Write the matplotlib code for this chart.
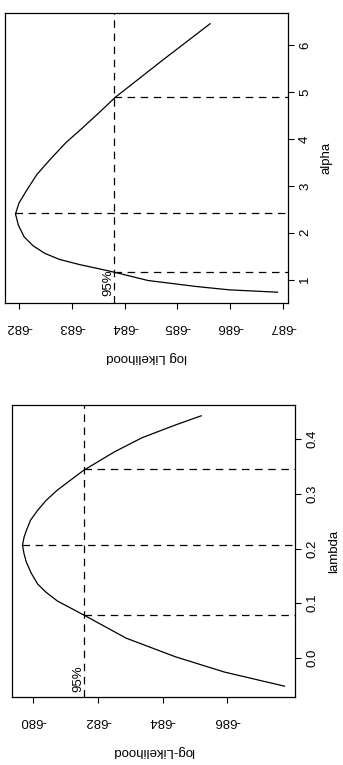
import numpy as np
import matplotlib
matplotlib.use("Agg")
import matplotlib.pyplot as plt

plt.rcParams["font.family"] = ["Liberation Sans", "DejaVu Sans"]
plt.rcParams["axes.unicode_minus"] = False

# Profile log-likelihood for alpha (upper panel on the turned page)
alpha = [0.73, 0.78, 0.85, 0.98, 1.16, 1.23, 1.32, 1.43, 1.56, 1.72, 1.91,
         2.16, 2.40, 2.63, 2.91, 3.24, 3.56, 3.92, 4.24, 4.56, 4.89, 5.71,
         6.46]
loglik_alpha = [-686.90, -685.99, -685.37, -684.44, -683.79, -683.51, -683.14,
                -682.76, -682.48, -682.26, -682.09, -681.98, -681.925, -681.99,
                -682.14, -682.33, -682.58, -682.88, -683.20, -683.51, -683.82,
                -684.75, -685.62]
alpha_mle = 2.43
alpha_ci = [1.16, 4.90]
alpha_cut = -683.80
alpha_ticks = [1, 2, 3, 4, 5, 6]
loglik_alpha_ticks = [-682, -683, -684, -685, -686, -687]

# Profile log-likelihood for lambda (lower panel)
lam = [-0.052, -0.026, 0.002, 0.036, 0.077, 0.104, 0.120, 0.135, 0.155, 0.175,
       0.190, 0.206, 0.221, 0.233, 0.252, 0.270, 0.288, 0.307, 0.343, 0.377,
       0.403, 0.426, 0.443]
loglik_lam = [-687.78, -685.91, -684.39, -682.87, -681.60, -680.74, -680.39,
              -680.13, -679.93, -679.78, -679.71, -679.66, -679.71, -679.78,
              -679.91, -680.13, -680.39, -680.74, -681.55, -682.51, -683.37,
              -684.39, -685.20]
lam_mle = 0.207
lam_ci = [0.078, 0.345]
lam_cut = -681.57
lam_ticks = [0.0, 0.1, 0.2, 0.3, 0.4]
lam_tick_labels = ["0.0", "0.1", "0.2", "0.3", "0.4"]
loglik_lam_ticks = [-680, -682, -684, -686]

DASH = (0, (6, 4.5))


def panel(ax, par, ll, mle, ci, cut, par_ticks, par_labels, ll_ticks,
          par_name, ll_name, txt_at):
    """R-style profile plot, drawn turned 90 degrees like the scanned page."""
    par = np.asarray(par)
    ll = np.asarray(ll)
    # R extends the data range by 4 % on each side
    pad_ll = 0.04 * (ll.max() - ll.min())
    pad_p = 0.04 * (par.max() - par.min())
    ll_lo, ll_hi = ll.min() - pad_ll, ll.max() + pad_ll
    ax.set_xlim(ll_hi, ll_lo)          # log-likelihood grows to the left
    ax.set_ylim(par.min() - pad_p, par.max() + pad_p)

    ax.plot(ll, par, color="black", lw=0.9)
    ax.axvline(cut, color="black", lw=0.9, ls=DASH)
    for p in ci:
        ax.plot([cut, ll_lo], [p, p], color="black", lw=0.9, ls=DASH)
    ax.plot([ll.max(), ll_lo], [mle, mle], color="black", lw=0.9, ls=DASH)
    ax.text(cut, txt_at, "95%", rotation=90, ha="right", va="bottom",
            fontsize=9.5)

    ax.set_xticks(ll_ticks)
    ax.set_xticklabels([str(v) for v in ll_ticks])
    ax.tick_params(axis="x", direction="out", length=4, width=0.8, pad=9,
                   labelsize=9.5, labelrotation=180)
    ax.set_xlabel(ll_name, rotation=180, fontsize=9.5, labelpad=13)

    ax.yaxis.tick_right()
    ax.yaxis.set_label_position("right")
    ax.set_yticks(par_ticks)
    ax.set_yticklabels(par_labels)
    ax.tick_params(axis="y", direction="out", length=4, width=0.8, pad=4,
                   labelsize=9.5, labelrotation=90)
    plt.setp(ax.get_yticklabels(), va="center")
    ax.set_ylabel(par_name, rotation=90, fontsize=9.5, labelpad=7)

    for s in ax.spines.values():
        s.set_linewidth(0.9)


fig = plt.figure(figsize=(3.43, 7.65), dpi=100)
ax_a = fig.add_axes([0.0146, 0.604, 0.825, 0.379])
ax_l = fig.add_axes([0.035, 0.0889, 0.825, 0.3817])

panel(ax_a, alpha, loglik_alpha, alpha_mle, alpha_ci, alpha_cut,
      alpha_ticks, [str(v) for v in alpha_ticks], loglik_alpha_ticks,
      "alpha", "log Likelihood", 0.65)
panel(ax_l, lam, loglik_lam, lam_mle, lam_ci, lam_cut,
      lam_ticks, lam_tick_labels, loglik_lam_ticks,
      "lambda", "log-Likelihood", -0.063)

fig.savefig("out.png", dpi=100)
